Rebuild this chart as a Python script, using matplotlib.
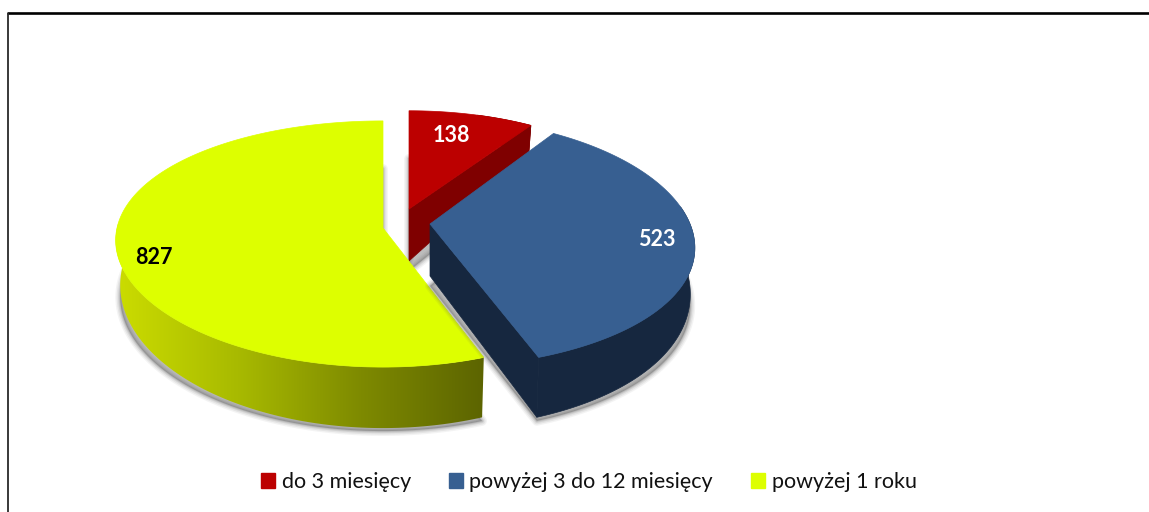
import numpy as np
import matplotlib
matplotlib.use("Agg")
import matplotlib.pyplot as plt
from matplotlib.patches import Polygon, Patch
from matplotlib.colors import LinearSegmentedColormap

categories = ["do 3 miesięcy", "powyżej 3 do 12 miesięcy", "powyżej 1 roku"]
values = [138, 523, 827]
top_colors = ["#BC0000", "#375F91", "#DDFF00"]
wall_colors = ["#7F0000", "#16273F", None]
label_colors = ["white", "white", "black"]

# drawing geometry in pixels
apex = [(409, 209), (430, 224), (383, 228)]
RX = [245.5, 260, 266]
RY = [111, 122, 121]
KX = [0.13, 0.19, 0.10]
KY = [0.13, 0.15, 0.13]
APEX_DEPTH = 52
label_pos = [(451, 135), (657, 239), (154, 257)]

plt.rcParams["font.family"] = ["Lato", "DejaVu Sans"]
fig = plt.figure(figsize=(11.49, 5.12), dpi=100)
ax = fig.add_axes([0, 0, 1, 1])
ax.set_xlim(0, 1149)
ax.set_ylim(512, 0)
ax.axis("off")

fractions = np.array(values) / sum(values)
edges = np.concatenate([[0], np.cumsum(fractions)]) * 2 * np.pi


def rim(i, t):
    u, v = np.sin(t), np.cos(t)
    return (apex[i][0] + RX[i] * u / (1 + KX[i] * v),
            apex[i][1] - RY[i] * v / (1 + KY[i] * v))


def low(i, t, extra=0.0):
    x, y = rim(i, t)
    v = np.cos(t)
    return apex[i][0] + (x - apex[i][0]) * 0.983, y + 43 - 18 * v + extra


def shadow_poly(i, t):
    v = np.cos(t)
    xs, ys = low(i, t, 13 + 10 * v)
    return np.column_stack([np.r_[apex[i][0], xs], np.r_[apex[i][1] + APEX_DEPTH + 10, ys]])


ax.plot([7.4, 1149], [13, 13], color="black", lw=1.9, zorder=1, solid_capstyle="butt")
ax.plot([8, 8], [13, 512], color="#2A2A2A", lw=1.3, zorder=1, solid_capstyle="butt")

order = [0, 2, 1]
for n, i in enumerate(order):
    z = 10 + 10 * n
    t = np.linspace(edges[i], edges[i + 1], 200)
    rx_, ry_ = rim(i, t)
    lx, ly = low(i, t)
    ax0, ay0 = apex[i]
    # soft shadow
    sp = shadow_poly(i, t)
    for lw, a in zip([7, 5, 3, 1.5], [0.07, 0.10, 0.14, 0.18]):
        ax.add_patch(Polygon(sp, closed=True, fc="#606060", ec="#606060", lw=lw,
                             alpha=a, joinstyle="round", zorder=z))
    # walls
    if i == 2:
        front = t < 1.5 * np.pi + 0.06
        wall = np.column_stack([np.r_[rx_[front], lx[front][::-1]],
                                np.r_[ry_[front], ly[front][::-1]]])
        poly = Polygon(wall, closed=True, fc="none", ec="none", zorder=z + 1)
        ax.add_patch(poly)
        cmap = LinearSegmentedColormap.from_list(
            "wall", ["#CCDD00", "#A8BA00", "#7E8A00", "#5C6400"])
        grad = np.linspace(0, 1, 256).reshape(1, -1)
        im = ax.imshow(grad, extent=[rx_[front].min() - 2, rx_[front].max(),
                                     512, 0], aspect="auto", cmap=cmap, zorder=z + 1)
        im.set_clip_path(poly)
        ax.set_xlim(0, 1149)
        ax.set_ylim(512, 0)
    else:
        front = np.cos(t) < 0.95 if i == 0 else np.cos(t) < 0.15
        wall = np.column_stack([np.r_[rx_[front], lx[front][::-1]],
                                np.r_[ry_[front], ly[front][::-1]]])
        ax.add_patch(Polygon(wall, closed=True, fc=wall_colors[i], ec=wall_colors[i],
                             lw=0.5, zorder=z + 1))
        # cut face on the trailing edge of the slice
        end = edges[i + 1]
        ex, ey = rim(i, end)
        fx, fy = low(i, end)
        ax.add_patch(Polygon([(ax0, ay0), (ex, ey), (fx, fy), (ax0, ay0 + APEX_DEPTH)],
                             closed=True, fc=wall_colors[i], ec=wall_colors[i], lw=0.5,
                             zorder=z + 1))
    # top face
    top = np.column_stack([np.r_[ax0, rx_], np.r_[ay0, ry_]])
    ax.add_patch(Polygon(top, closed=True, fc=top_colors[i], ec=top_colors[i], lw=0.5,
                         zorder=z + 2))
    ax.text(label_pos[i][0], label_pos[i][1], str(values[i]), color=label_colors[i],
            fontsize=15.5, fontweight="bold", ha="center", va="center", zorder=50)

handles = [Patch(fc=c, ec=c) for c in top_colors]
fig.legend(handles, categories, ncol=3, loc="center", bbox_to_anchor=(589 / 1149, 1 - 482 / 512),
           frameon=False, fontsize=15.5, handlelength=0.62, handleheight=0.7,
           handletextpad=0.32, columnspacing=1.78, labelcolor="#111111")

fig.savefig("out.png", dpi=100)
